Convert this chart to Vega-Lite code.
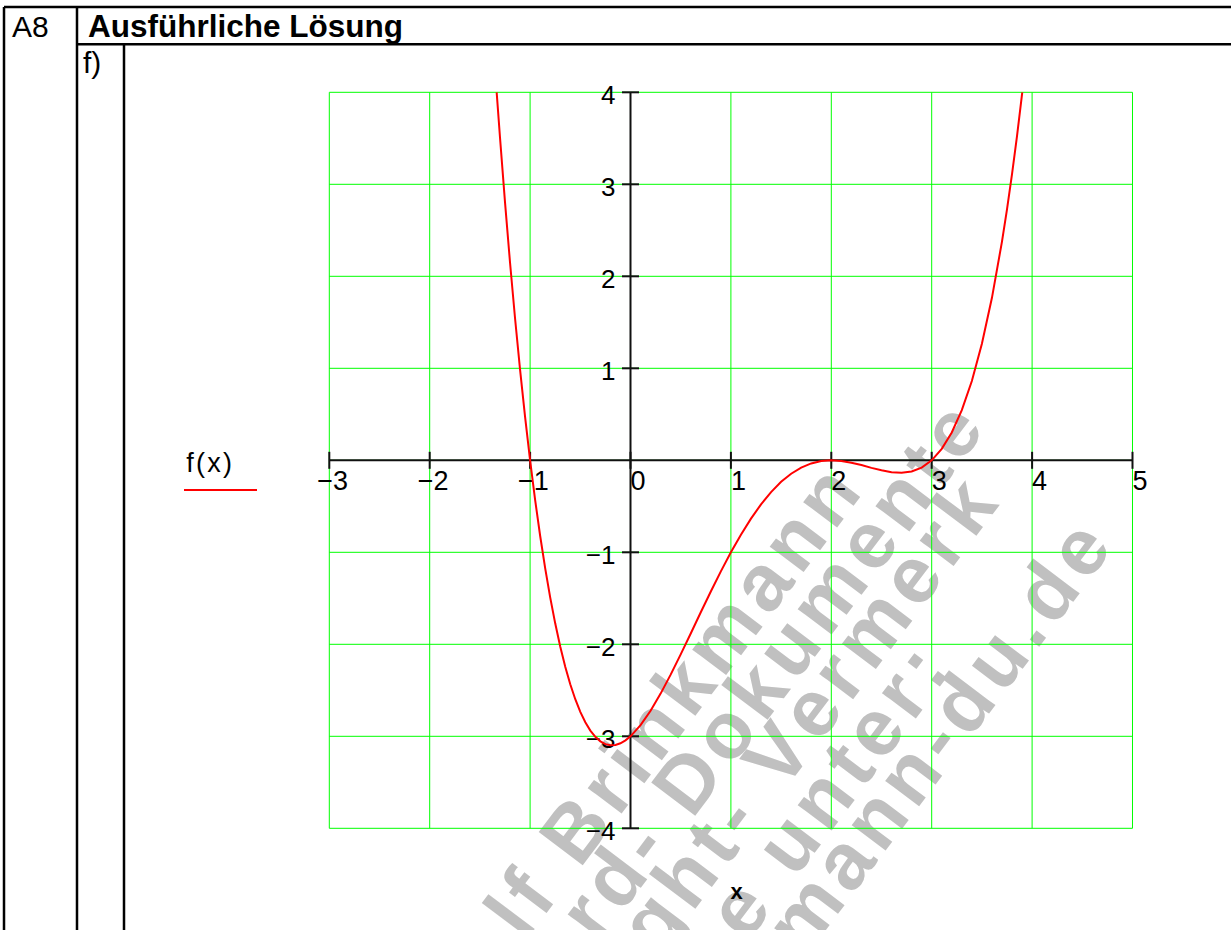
{
  "$schema": "https://vega.github.io/schema/vega-lite/v6.json",
  "width": 1231,
  "height": 930,
  "autosize": {"type": "none"},
  "padding": 0,
  "background": "white",
  "config": {"view": {"stroke": null}, "font": "Liberation Sans"},
  "datasets": {
    "wm": [
      {"x": 2.1265, "y": -0.1985, "t": "R\u200ao\u200al\u200af\u200a \u200aB\u200ar\u200ai\u200an\u200ak\u200am\u200aa\u200an\u200an"},
      {"x": 3.3525, "y": 0.4928, "t": "S\u200at\u200aa\u200an\u200ad\u200aa\u200ar\u200ad\u200a-\u200a \u200aD\u200ao\u200ak\u200au\u200am\u200ae\u200an\u200at\u200ae"},
      {"x": 3.4860, "y": -0.3268, "t": "C\u200ao\u200ap\u200ay\u200ar\u200ai\u200ag\u200ah\u200at\u200a-\u200a \u200aV\u200ae\u200ar\u200am\u200ae\u200ar\u200ak"},
      {"x": 3.0050, "y": -2.1395, "t": "s\u200ai\u200ae\u200ah\u200ae\u200a \u200au\u200an\u200at\u200ae\u200ar\u200a:"},
      {"x": 4.6215, "y": -0.7963, "t": "w\u200aw\u200aw\u200a.\u200ab\u200ar\u200ai\u200an\u200ak\u200am\u200aa\u200an\u200an\u200a-\u200ad\u200au\u200a.\u200ad\u200ae"}
    ],
    "grid": [
      {"x": -3, "y": -4, "x2": -3, "y2": 4}, {"x": -2, "y": -4, "x2": -2, "y2": 4},
      {"x": -1, "y": -4, "x2": -1, "y2": 4}, {"x": 0, "y": -4, "x2": 0, "y2": 4},
      {"x": 1, "y": -4, "x2": 1, "y2": 4}, {"x": 2, "y": -4, "x2": 2, "y2": 4},
      {"x": 3, "y": -4, "x2": 3, "y2": 4}, {"x": 4, "y": -4, "x2": 4, "y2": 4},
      {"x": 5, "y": -4, "x2": 5, "y2": 4},
      {"x": -3, "y": -4, "x2": 5, "y2": -4}, {"x": -3, "y": -3, "x2": 5, "y2": -3},
      {"x": -3, "y": -2, "x2": 5, "y2": -2}, {"x": -3, "y": -1, "x2": 5, "y2": -1},
      {"x": -3, "y": 0, "x2": 5, "y2": 0}, {"x": -3, "y": 1, "x2": 5, "y2": 1},
      {"x": -3, "y": 2, "x2": 5, "y2": 2}, {"x": -3, "y": 3, "x2": 5, "y2": 3},
      {"x": -3, "y": 4, "x2": 5, "y2": 4}
    ],
    "frame": [
      {"x": -6.24, "y": 4.9272, "x2": 6.5, "y2": 4.9272},
      {"x": -6.24, "y": 4.9272, "x2": -6.24, "y2": -5.4},
      {"x": -5.513, "y": 4.9272, "x2": -5.513, "y2": -5.4},
      {"x": -5.513, "y": 4.5217, "x2": 6.5, "y2": 4.5217},
      {"x": -5.0448, "y": 4.5217, "x2": -5.0448, "y2": -5.4}
    ],
    "axes": [
      {"x": -3, "y": 0, "x2": 5, "y2": 0},
      {"x": 0, "y": -4, "x2": 0, "y2": 4}
    ],
    "xticks": [
      {"x": -3, "y": 0}, {"x": -2, "y": 0}, {"x": -1, "y": 0}, {"x": 0, "y": 0},
      {"x": 1, "y": 0}, {"x": 2, "y": 0}, {"x": 3, "y": 0}, {"x": 4, "y": 0}, {"x": 5, "y": 0}
    ],
    "yticks": [
      {"x": 0, "y": -4}, {"x": 0, "y": -3}, {"x": 0, "y": -2}, {"x": 0, "y": -1},
      {"x": 0, "y": 1}, {"x": 0, "y": 2}, {"x": 0, "y": 3}, {"x": 0, "y": 4}
    ],
    "xlabneg": [
      {"x": -3, "y": 0, "t": "−3"}, {"x": -2, "y": 0, "t": "−2"}, {"x": -1, "y": 0, "t": "−1"}
    ],
    "xlabpos": [
      {"x": 0, "y": 0, "t": "0"}, {"x": 1, "y": 0, "t": "1"}, {"x": 2, "y": 0, "t": "2"},
      {"x": 3, "y": 0, "t": "3"}, {"x": 4, "y": 0, "t": "4"}, {"x": 5, "y": 0, "t": "5"}
    ],
    "ylab": [
      {"x": 0, "y": 4, "t": "4"}, {"x": 0, "y": 3, "t": "3"}, {"x": 0, "y": 2, "t": "2"},
      {"x": 0, "y": 1, "t": "1"}, {"x": 0, "y": -1, "t": "−1"}, {"x": 0, "y": -2, "t": "−2"},
      {"x": 0, "y": -3, "t": "−3"}, {"x": 0, "y": -4, "t": "−4"}
    ],
    "legline": [
      {"x": -4.4472, "y": -0.3228, "x2": -3.7201, "y2": -0.3228}
    ],
    "plain": [
      {"x": -6.1604, "y": 4.6011, "t": "A8"},
      {"x": -5.4532, "y": 4.2098, "t": "f)"}
    ],
    "head": [
      {"x": -5.4034, "y": 4.6011, "t": "Ausführliche Lösung"}
    ],
    "leg": [
      {"x": -4.1982, "y": -0.1272, "t": "f\u200a(\u200ax\u200a)"}
    ],
    "xtitle": [
      {"x": 1.0578, "y": -4.7717, "t": "x"}
    ],
    "curve": [
      {"x": -1.333, "y": 4.0}, {"x": -1.3, "y": 3.512}, {"x": -1.25, "y": 2.806},
      {"x": -1.2, "y": 2.150}, {"x": -1.15, "y": 1.544}, {"x": -1.1, "y": 0.985},
      {"x": -1.05, "y": 0.471}, {"x": -1.0, "y": 0.0}, {"x": -0.95, "y": -0.430},
      {"x": -0.9, "y": -0.820}, {"x": -0.85, "y": -1.173}, {"x": -0.8, "y": -1.490},
      {"x": -0.75, "y": -1.772}, {"x": -0.7, "y": -2.023}, {"x": -0.65, "y": -2.243},
      {"x": -0.6, "y": -2.434}, {"x": -0.55, "y": -2.597}, {"x": -0.5, "y": -2.734},
      {"x": -0.45, "y": -2.847}, {"x": -0.4, "y": -2.938}, {"x": -0.35, "y": -3.006},
      {"x": -0.3, "y": -3.055}, {"x": -0.25, "y": -3.085}, {"x": -0.2, "y": -3.098},
      {"x": -0.15, "y": -3.094}, {"x": -0.1, "y": -3.076}, {"x": -0.05, "y": -3.044},
      {"x": 0.0, "y": -3.0}, {"x": 0.1, "y": -2.879}, {"x": 0.2, "y": -2.722},
      {"x": 0.3, "y": -2.536}, {"x": 0.4, "y": -2.330}, {"x": 0.5, "y": -2.109},
      {"x": 0.6, "y": -1.882}, {"x": 0.7, "y": -1.652}, {"x": 0.8, "y": -1.426},
      {"x": 0.9, "y": -1.207}, {"x": 1.0, "y": -1.0}, {"x": 1.1, "y": -0.808},
      {"x": 1.2, "y": -0.634}, {"x": 1.3, "y": -0.479}, {"x": 1.4, "y": -0.346},
      {"x": 1.5, "y": -0.234}, {"x": 1.6, "y": -0.146}, {"x": 1.7, "y": -0.079},
      {"x": 1.8, "y": -0.034}, {"x": 1.9, "y": -0.008}, {"x": 2.0, "y": 0.0},
      {"x": 2.1, "y": -0.007}, {"x": 2.2, "y": -0.026}, {"x": 2.3, "y": -0.052},
      {"x": 2.4, "y": -0.082}, {"x": 2.5, "y": -0.109}, {"x": 2.6, "y": -0.130},
      {"x": 2.7, "y": -0.136}, {"x": 2.8, "y": -0.122}, {"x": 2.9, "y": -0.079},
      {"x": 3.0, "y": 0.0}, {"x": 3.1, "y": 0.124}, {"x": 3.2, "y": 0.302},
      {"x": 3.3, "y": 0.545}, {"x": 3.4, "y": 0.862}, {"x": 3.5, "y": 1.266},
      {"x": 3.6, "y": 1.766}, {"x": 3.7, "y": 2.377}, {"x": 3.75, "y": 2.728},
      {"x": 3.8, "y": 3.110}, {"x": 3.85, "y": 3.527}, {"x": 3.902, "y": 4.0}
    ]
  },
  "encoding": {
    "x": {"field": "x", "type": "quantitative", "scale": {"domain": [-6.2799, 5.9811], "nice": false, "zero": false}, "axis": null},
    "y": {"field": "y", "type": "quantitative", "scale": {"domain": [-5.1054, 5.0033], "nice": false, "zero": false}, "axis": null}
  },
  "layer": [
    {
      "data": {"name": "wm"},
      "mark": {"type": "text", "angle": 307, "fontSize": 80, "fontWeight": "bold", "color": "#c0c0c0", "align": "right", "baseline": "middle"},
      "encoding": {"text": {"field": "t"}}
    },
    {
      "data": {"name": "grid"},
      "mark": {"type": "rule", "color": "#00ff00", "strokeWidth": 1},
      "encoding": {"x2": {"field": "x2"}, "y2": {"field": "y2"}}
    },
    {
      "data": {"name": "frame"},
      "mark": {"type": "rule", "color": "#000000", "strokeWidth": 2.5},
      "encoding": {"x2": {"field": "x2"}, "y2": {"field": "y2"}}
    },
    {
      "data": {"name": "axes"},
      "mark": {"type": "rule", "color": "#111111", "strokeWidth": 2},
      "encoding": {"x2": {"field": "x2"}, "y2": {"field": "y2"}}
    },
    {
      "data": {"name": "xticks"},
      "mark": {"type": "tick", "orient": "vertical", "size": 17, "thickness": 2, "color": "#111111", "opacity": 1}
    },
    {
      "data": {"name": "yticks"},
      "mark": {"type": "tick", "orient": "horizontal", "size": 17, "thickness": 2, "color": "#111111", "opacity": 1}
    },
    {
      "data": {"name": "xlabneg"},
      "mark": {"type": "text", "fontSize": 27, "color": "#000000", "align": "left", "baseline": "alphabetic", "dx": -12, "dy": 30},
      "encoding": {"text": {"field": "t"}}
    },
    {
      "data": {"name": "xlabpos"},
      "mark": {"type": "text", "fontSize": 27, "color": "#000000", "align": "left", "baseline": "alphabetic", "dx": 0, "dy": 30},
      "encoding": {"text": {"field": "t"}}
    },
    {
      "data": {"name": "ylab"},
      "mark": {"type": "text", "fontSize": 26, "color": "#000000", "align": "right", "baseline": "alphabetic", "dx": -15, "dy": 12},
      "encoding": {"text": {"field": "t"}}
    },
    {
      "data": {"name": "legline"},
      "mark": {"type": "rule", "color": "#ff0000", "strokeWidth": 2},
      "encoding": {"x2": {"field": "x2"}, "y2": {"field": "y2"}}
    },
    {
      "data": {"name": "plain"},
      "mark": {"type": "text", "fontSize": 30, "color": "#000000", "align": "left", "baseline": "alphabetic"},
      "encoding": {"text": {"field": "t"}}
    },
    {
      "data": {"name": "head"},
      "mark": {"type": "text", "fontSize": 31.5, "fontWeight": "bold", "color": "#000000", "align": "left", "baseline": "alphabetic"},
      "encoding": {"text": {"field": "t"}}
    },
    {
      "data": {"name": "leg"},
      "mark": {"type": "text", "fontSize": 27, "color": "#000000", "align": "center", "baseline": "alphabetic"},
      "encoding": {"text": {"field": "t"}}
    },
    {
      "data": {"name": "xtitle"},
      "mark": {"type": "text", "fontSize": 22, "fontWeight": "bold", "color": "#000000", "align": "center", "baseline": "alphabetic"},
      "encoding": {"text": {"field": "t"}}
    },
    {
      "data": {"name": "curve"},
      "mark": {"type": "line", "color": "#ff0000", "strokeWidth": 2},
      "encoding": {"order": {"field": "x", "type": "quantitative"}}
    }
  ]
}
